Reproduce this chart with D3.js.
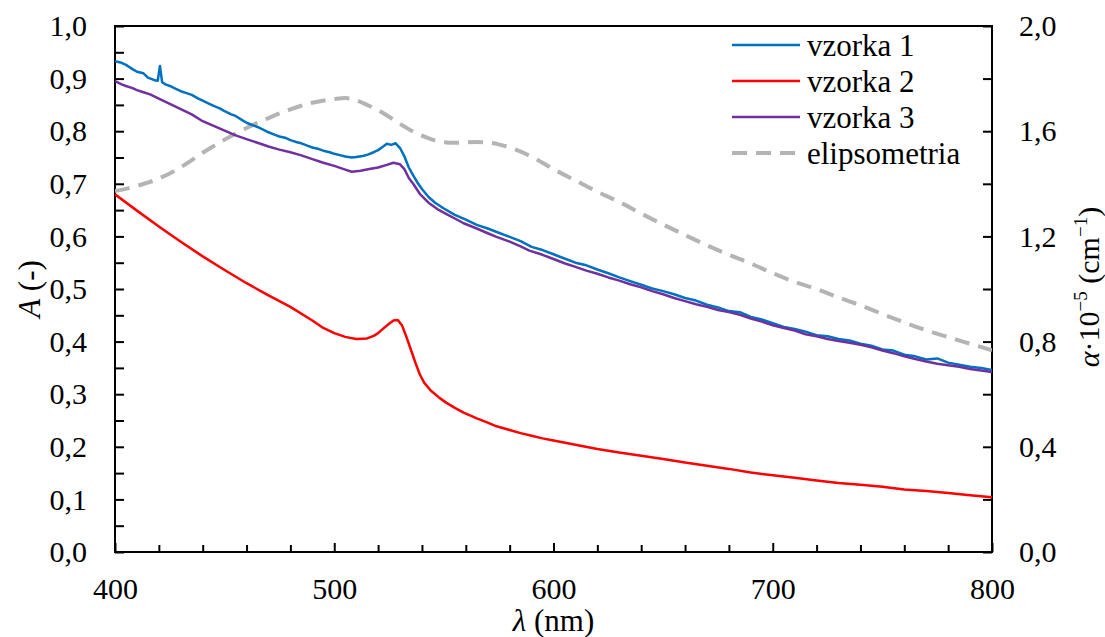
<!DOCTYPE html>
<html><head><meta charset="utf-8">
<script src="https://cdn.jsdelivr.net/npm/d3@7"></script>
<style>
body{margin:0;background:#fff}
svg{display:block}
</style>
</head><body><svg id="c" width="1105" height="637"></svg>
<script>
// ---- data ----
const wl1=[400,403,405,408,410,413,415,418,419.5,420.5,421.5,423,425,428,430,433,435,438,440,443,445,448,450,453,455,458,460,463,465,468,470,473,475,478,480,483,485,488,490,493,495,498,500,503,505,508,510,513,515,518,520,522,524,526,528,530,532,534,536,538,540,543,546,550,555,560,565,570,575,580,585,590,595,600,605,610,615,620,625,630,635,640,645,650,655,660,665,670,675,680,685,690,695,700,705,710,715,720,725,730,735,740,745,750,755,760,765,770,775,780,785,790,795,800];
const vzorka1=[0.933,0.930,0.926,0.918,0.913,0.910,0.902,0.897,0.896,0.924,0.893,0.889,0.886,0.880,0.876,0.872,0.869,0.862,0.858,0.852,0.848,0.843,0.838,0.832,0.829,0.821,0.816,0.811,0.808,0.802,0.798,0.793,0.790,0.787,0.783,0.779,0.777,0.772,0.769,0.766,0.763,0.760,0.757,0.754,0.752,0.750,0.751,0.753,0.755,0.760,0.764,0.770,0.776,0.774,0.777,0.768,0.752,0.731,0.716,0.702,0.690,0.675,0.664,0.653,0.641,0.632,0.622,0.615,0.607,0.599,0.591,0.580,0.574,0.566,0.558,0.550,0.545,0.537,0.530,0.522,0.515,0.508,0.501,0.496,0.490,0.483,0.478,0.470,0.465,0.458,0.456,0.447,0.442,0.435,0.428,0.424,0.419,0.412,0.410,0.405,0.402,0.396,0.392,0.385,0.383,0.375,0.372,0.366,0.368,0.360,0.356,0.352,0.350,0.346];

const wl2=[400,410,420,430,440,450,460,470,480,490,495,500,505,510,515,518,520,523,525,527,529,531,533,535,537,539,541,544,548,551,555,559,565,570,574,580,585,590,595,600,610,620,630,640,650,660,670,680,690,700,710,720,730,740,750,760,770,780,790,800];
const vzorka2=[0.680,0.649,0.619,0.590,0.562,0.536,0.511,0.488,0.466,0.440,0.426,0.416,0.409,0.405,0.406,0.411,0.416,0.427,0.434,0.440,0.441,0.430,0.408,0.384,0.360,0.338,0.322,0.307,0.293,0.284,0.274,0.265,0.254,0.246,0.239,0.232,0.226,0.221,0.216,0.212,0.204,0.196,0.189,0.183,0.177,0.170,0.164,0.158,0.151,0.146,0.141,0.136,0.131,0.128,0.124,0.119,0.116,0.112,0.108,0.104];

const wl3=[400,403,405,408,410,413,416,420,425,430,435,440,445,450,455,460,465,470,475,480,485,490,495,500,505,508,512,516,520,524,527,530,532,534,536,539,543,547,551,555,559,565,570,574,580,585,589,595,600,605,610,615,620,625,630,635,640,645,650,655,660,665,670,675,680,685,690,695,700,705,710,715,720,725,730,735,740,745,750,755,760,765,770,775,780,785,790,795,800];
const vzorka3=[0.895,0.889,0.886,0.882,0.878,0.874,0.870,0.862,0.852,0.842,0.832,0.819,0.810,0.801,0.792,0.785,0.778,0.771,0.765,0.760,0.754,0.747,0.740,0.734,0.727,0.723,0.725,0.728,0.731,0.736,0.740,0.737,0.728,0.711,0.700,0.681,0.664,0.652,0.643,0.634,0.625,0.615,0.606,0.599,0.590,0.581,0.573,0.565,0.557,0.549,0.542,0.535,0.529,0.522,0.516,0.509,0.503,0.496,0.490,0.483,0.477,0.471,0.466,0.460,0.456,0.451,0.444,0.438,0.431,0.426,0.421,0.414,0.410,0.405,0.401,0.398,0.394,0.389,0.383,0.378,0.372,0.367,0.362,0.358,0.355,0.352,0.348,0.345,0.342];

const wlE=[400,410,420,430,440,450,460,470,480,490,500,505,510,515,520,525,530,535,540,545,550,555,560,565,570,575,580,585,590,595,600,610,620,630,640,650,660,670,680,690,700,710,720,730,740,750,760,770,780,790,800];
const elipsometria=[1.372,1.392,1.420,1.463,1.518,1.568,1.612,1.650,1.683,1.708,1.722,1.726,1.718,1.700,1.680,1.655,1.628,1.603,1.583,1.567,1.558,1.556,1.558,1.559,1.557,1.550,1.538,1.522,1.503,1.480,1.456,1.413,1.370,1.331,1.287,1.245,1.205,1.166,1.130,1.097,1.060,1.027,1.000,0.968,0.938,0.905,0.873,0.843,0.817,0.792,0.767];

const seriesNames=["vzorka 1","vzorka 2","vzorka 3","elipsometria"];
const seriesColors=["#0070C0","#FF0000","#7030A0","#B4B4B4"];
const xTickLabels=[400,500,600,700,800];
const yLeftTicks=[0,0.1,0.2,0.3,0.4,0.5,0.6,0.7,0.8,0.9,1.0];
const yRightTicks=[0,0.4,0.8,1.2,1.6,2.0];

// ---- layout ----
const FONT="'Liberation Serif', 'Times New Roman', Tinos, 'DejaVu Serif', serif";
const L=115,R=992,T=26,B=552;
const svg=d3.select("#c");
const x=d3.scaleLinear().domain([400,800]).range([L,R]);
const y=d3.scaleLinear().domain([0,1]).range([B,T]);
const y2=d3.scaleLinear().domain([0,2]).range([B,T]);
const fmt=d=>d3.format(".1f")(d).replace(".",",");
const FS=30;

svg.append("defs").append("clipPath").attr("id","clip").append("rect")
  .attr("x",L).attr("y",T).attr("width",R-L).attr("height",B-T);

function styleAxis(g){
  g.attr("font-family",null).attr("font-size",null);
  g.select(".domain").remove();
  g.selectAll("line").attr("stroke","#000").attr("stroke-width",2);
  g.selectAll("text").style("font-family",FONT).style("font-size",FS+"px").attr("fill","#000");
}
const isMajorL=d=>yLeftTicks.some(t=>Math.abs(t-d)<1e-6);
svg.append("g").attr("transform",`translate(${L},0)`)
  .call(d3.axisLeft(y).tickValues(d3.range(0,1.0001,0.05)).tickSizeInner(-9).tickSizeOuter(0).tickPadding(28)
    .tickFormat(d=>isMajorL(d)?fmt(d):""))
  .call(styleAxis);
const isMajorR=d=>yRightTicks.some(t=>Math.abs(t-d)<1e-6);
svg.append("g").attr("transform",`translate(${R},0)`)
  .call(d3.axisRight(y2).tickValues(d3.range(0,2.0001,0.2)).tickSizeInner(-9).tickSizeOuter(0).tickPadding(27)
    .tickFormat(d=>isMajorR(d)?fmt(d):""))
  .call(styleAxis);
svg.append("g").attr("transform",`translate(0,${B})`)
  .call(d3.axisBottom(x).tickValues(d3.range(420,800,20).filter(v=>v%100!==0)).tickSizeInner(-7).tickSizeOuter(0).tickFormat(""))
  .call(styleAxis);
svg.append("g").attr("transform",`translate(0,${B})`)
  .call(d3.axisBottom(x).tickValues(xTickLabels).tickSizeInner(-9).tickSizeOuter(0).tickPadding(26).tickFormat(d=>d))
  .call(styleAxis);

svg.append("rect").attr("x",L).attr("y",T).attr("width",R-L).attr("height",B-T)
  .attr("fill","none").attr("stroke","#000").attr("stroke-width",2);

const plot=svg.append("g").attr("clip-path","url(#clip)");
const lineL=d3.line().x(d=>x(d[0])).y(d=>y(d[1]));
const lineR=d3.line().x(d=>x(d[0])).y(d=>y2(d[1])).curve(d3.curveMonotoneX);
plot.append("path").datum(d3.zip(wlE,elipsometria)).attr("d",lineR)
  .attr("fill","none").attr("stroke",seriesColors[3]).attr("stroke-width",4).attr("stroke-dasharray","15,9");
plot.append("path").datum(d3.zip(wl2,vzorka2)).attr("d",lineL)
  .attr("fill","none").attr("stroke",seriesColors[1]).attr("stroke-width",2.5).attr("stroke-linejoin","round");
plot.append("path").datum(d3.zip(wl1,vzorka1)).attr("d",lineL)
  .attr("fill","none").attr("stroke",seriesColors[0]).attr("stroke-width",2.5).attr("stroke-linejoin","round");
plot.append("path").datum(d3.zip(wl3,vzorka3)).attr("d",lineL)
  .attr("fill","none").attr("stroke",seriesColors[2]).attr("stroke-width",2.5).attr("stroke-linejoin","round");

function txt(sel){ return sel.style("font-family",FONT).attr("fill","#000"); }

const legY=[45,81,117,153];
const leg=svg.append("g");
seriesNames.forEach((n,i)=>{
  leg.append("line").attr("x1",732).attr("x2",800).attr("y1",legY[i]).attr("y2",legY[i])
    .attr("stroke",seriesColors[i]).attr("stroke-width",i===3?4:2.5)
    .attr("stroke-dasharray",i===3?"15,9":null);
  txt(leg.append("text")).attr("x",807).attr("y",legY[i]+11).style("font-size","31px").text(n);
});

const xt=txt(svg.append("text")).attr("x",(L+R)/2).attr("y",631).attr("text-anchor","middle").style("font-size","31px");
xt.append("tspan").style("font-style","italic").text("λ");
xt.append("tspan").text(" (nm)");

const yt=txt(svg.append("text")).attr("transform",`translate(40,289) rotate(-90)`).attr("text-anchor","middle").style("font-size","31px");
yt.append("tspan").style("font-style","italic").text("A");
yt.append("tspan").text(" (-)");

const y2t=txt(svg.append("text")).attr("transform",`translate(1099,287) rotate(-90)`).attr("text-anchor","middle").style("font-size","30px");
y2t.append("tspan").style("font-style","italic").text("α");
y2t.append("tspan").text("·10");
y2t.append("tspan").attr("dy",-12).style("font-size","19px").text("−5");
y2t.append("tspan").attr("dy",12).text(" (cm");
y2t.append("tspan").attr("dy",-12).style("font-size","19px").text("−1");
y2t.append("tspan").attr("dy",12).text(")");
</script>
</body></html>
